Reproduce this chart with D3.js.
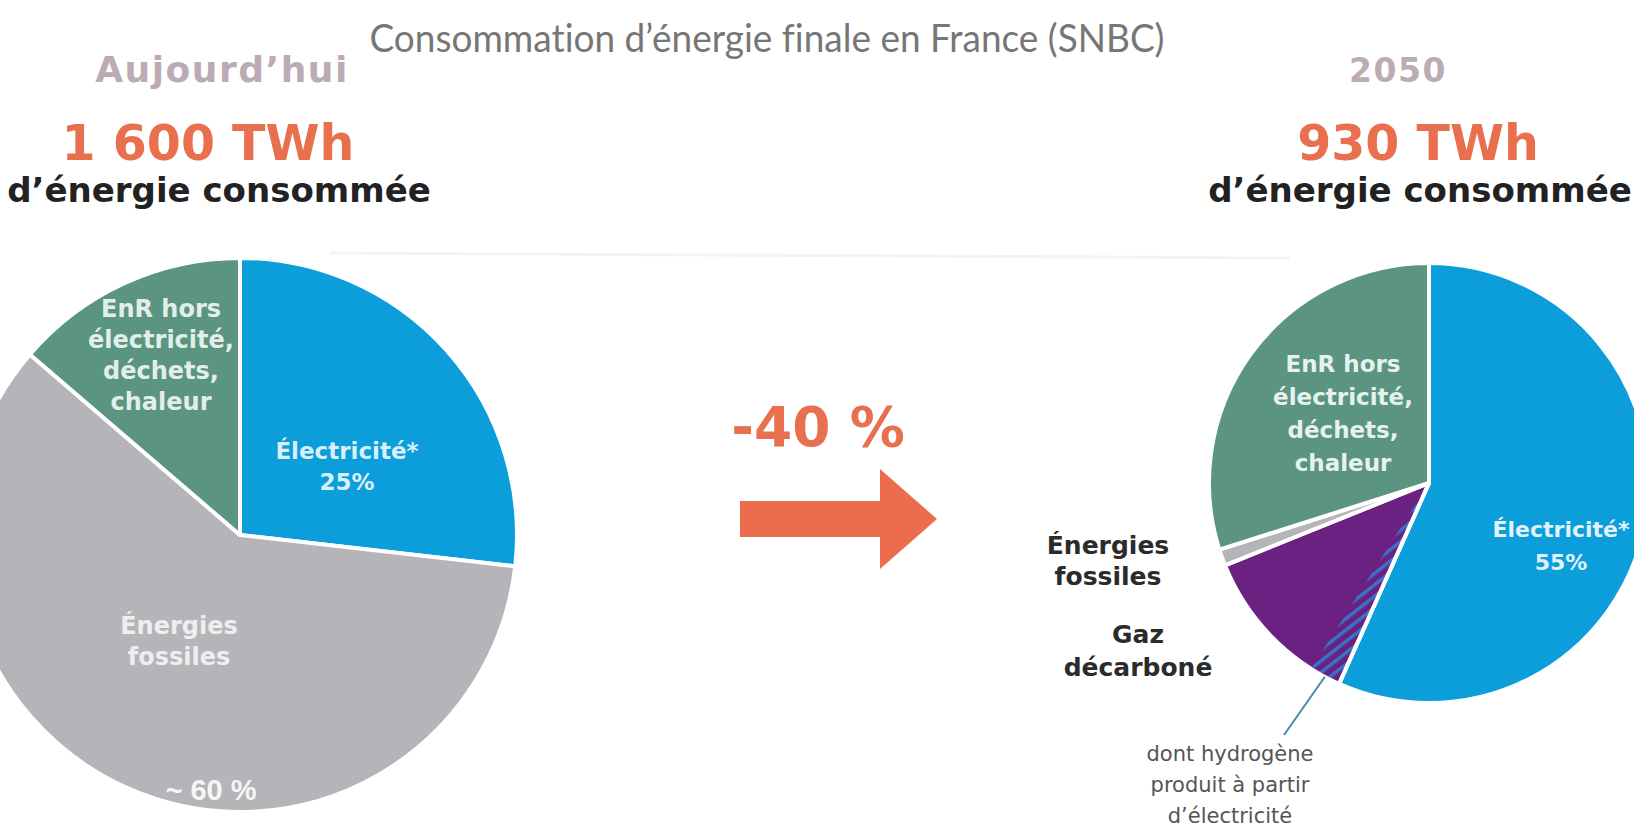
<!DOCTYPE html>
<html><head><meta charset="utf-8">
<script src="https://cdn.jsdelivr.net/npm/d3@7"></script>
<style>html,body{margin:0;padding:0;background:#fff;overflow:hidden} text{font-variant-ligatures:none}</style>
</head><body><svg id="chart" width="1634" height="834"></svg>
<script>
// ---------------- DATA ----------------
const title = "Consommation d’énergie finale en France (SNBC)";
const periods = ["Aujourd’hui", "2050"];
const totals = [1600, 930];
const totalLabels = ["1 600 TWh", "930 TWh"];
const subtitle = "d’énergie consommée";
const changeLabel = "-40 %";
const categoriesToday = ["Électricité*", "Énergies fossiles", "EnR hors électricité, déchets, chaleur"];
const valuesToday = [26.8, 59.5, 13.7];
const categories2050 = ["Électricité*", "Gaz décarboné", "Énergies fossiles", "EnR hors électricité, déchets, chaleur"];
const values2050 = [56.7, 12.2, 1.2, 29.9];
const hydrogenShare2050 = 2.3;           // part of "Gaz décarboné" = hydrogen made from electricity
const shareLabelsToday = ["25%", "~ 60 %", ""];
const shareLabels2050 = ["55%", "", "", ""];
const hydrogenNote = ["dont hydrogène", "produit à partir", "d’électricité"];

// ---------------- STYLE / LAYOUT ----------------
const colors = {
  "Électricité*": "#0b9edb",
  "Énergies fossiles": "#b5b5b9",
  "EnR hors électricité, déchets, chaleur": "#5b9480",
  "Gaz décarboné": "#6a2182"
};
const orange = "#e8704f";
const svg = d3.select("#chart");

const defs = svg.append("defs");
const pat = defs.append("pattern").attr("id", "hatch").attr("patternUnits", "userSpaceOnUse")
  .attr("width", 9).attr("height", 9).attr("patternTransform", "rotate(-38)");
pat.append("rect").attr("width", 9).attr("height", 9).attr("fill", colors["Gaz décarboné"]);
pat.append("rect").attr("width", 9).attr("height", 3.5).attr("fill", "#3a72c6");

// faint background line (artefact of the source)
svg.append("line").attr("x1", 330).attr("y1", 253).attr("x2", 1290).attr("y2", 258)
  .attr("stroke", "#f3f3f3").attr("stroke-width", 3);

// Title
svg.append("text").attr("x", 767).attr("y", 52).attr("text-anchor", "middle")
  .attr("font-family", "Lato, 'Open Sans', sans-serif").attr("font-size", 39)
  .attr("fill", "#767676").attr("textLength", 795).attr("lengthAdjust", "spacingAndGlyphs")
  .text(title);

// Headers
const bold = "'DejaVu Sans', Verdana, sans-serif";
const periodX = [222, 1398];
const periodSize = [36, 33];
const totalX = [208, 1418];
const subX = [219, 1420];
periods.forEach((p, i) => {
  svg.append("text").attr("x", periodX[i]).attr("y", 82).attr("text-anchor", "middle")
    .attr("font-family", bold).attr("font-weight", "bold")
    .attr("font-size", periodSize[i]).attr("letter-spacing", 1.5).attr("fill", "#bcabb5").text(p);
  svg.append("text").attr("x", totalX[i]).attr("y", 160).attr("text-anchor", "middle")
    .attr("font-family", bold).attr("font-weight", "bold")
    .attr("font-size", 49).attr("fill", orange).text(totalLabels[i]);
  svg.append("text").attr("x", subX[i]).attr("y", 202).attr("text-anchor", "middle")
    .attr("font-family", bold).attr("font-weight", "bold")
    .attr("font-size", 34).attr("fill", "#222").text(subtitle);
});

// Pies
const pieGen = d3.pie().sort(null).value(d => d.value).startAngle(0).endAngle(2 * Math.PI);

function drawPie(cx, cy, r, cats, vals) {
  const data = cats.map((c, i) => ({ cat: c, value: vals[i] }));
  const arcs = pieGen(data);
  const arc = d3.arc().innerRadius(0).outerRadius(r);
  const g = svg.append("g").attr("transform", `translate(${cx},${cy})`);
  g.selectAll("path.slice").data(arcs).join("path").attr("class", "slice")
    .attr("d", arc).attr("fill", d => colors[d.data.cat])
    .attr("stroke", "#ffffff").attr("stroke-width", 4).attr("stroke-linejoin", "round");
  return { g, arcs, arc };
}

const left = { cx: 240, cy: 535, r: 277 };
const right = { cx: 1429, cy: 483, r: 220 };

const P1 = drawPie(left.cx, left.cy, left.r, categoriesToday, valuesToday);
const P2 = drawPie(right.cx, right.cy, right.r, categories2050, values2050);

// hydrogen hatch inside gas slice (adjacent to electricity)
const gasArc = P2.arcs.find(a => a.data.cat === "Gaz décarboné");
const total2050 = d3.sum(values2050);
const hStart = gasArc.startAngle;
const hEnd = hStart + hydrogenShare2050 / total2050 * 2 * Math.PI;
P2.g.append("path")
  .attr("d", d3.arc().innerRadius(0).outerRadius(right.r - 2)({ startAngle: hStart + 0.01, endAngle: hEnd }))
  .attr("fill", "url(#hatch)");
P2.g.append("line").attr("x1", 0).attr("y1", 0)
  .attr("x2", right.r * Math.sin(hStart)).attr("y2", -right.r * Math.cos(hStart))
  .attr("stroke", "#ffffff").attr("stroke-width", 4);

// label helper
function block(x, y, lines, opt) {
  const t = svg.append("text").attr("text-anchor", "middle")
    .attr("font-family", opt.family || bold)
    .attr("font-weight", opt.weight || "bold").attr("font-size", opt.size)
    .attr("fill", opt.fill);
  const n = lines.length;
  lines.forEach((l, i) => {
    t.append("tspan").attr("x", x)
      .attr("y", y + (i - (n - 1) / 2) * opt.lh + opt.size * 0.36).text(l);
  });
  return t;
}

// left pie labels
block(161, 355, ["EnR hors", "électricité,", "déchets,", "chaleur"], { size: 24, lh: 31, fill: "#e2efe9" });
block(347, 466, [categoriesToday[0], shareLabelsToday[0]], { size: 23, lh: 31, fill: "#d9f0fa" });
block(179, 641, ["Énergies", "fossiles"], { size: 24, lh: 31, fill: "#eeeeee" });
block(211, 790, [shareLabelsToday[1]], { size: 29, lh: 30, fill: "#f6f6f6", family: "'Liberation Sans', Arial, sans-serif" });

// right pie labels
block(1343, 413, ["EnR hors", "électricité,", "déchets,", "chaleur"], { size: 23, lh: 33, fill: "#e6f2ed" });
block(1561, 546, [categories2050[0], shareLabels2050[0]], { size: 22, lh: 33, fill: "#e0f3fb" });
block(1108, 560, ["Énergies", "fossiles"], { size: 25, lh: 31, fill: "#2b2b2b" });
block(1138, 650, ["Gaz", "décarboné"], { size: 25, lh: 33, fill: "#2b2b2b" });
block(1230, 784, hydrogenNote, { size: 21, lh: 31, fill: "#555", weight: "normal" });

// leader line from hydrogen wedge
const hMid = (hStart + hEnd) / 2;
svg.append("line")
  .attr("x1", right.cx + right.r * Math.sin(hMid)).attr("y1", right.cy - right.r * Math.cos(hMid))
  .attr("x2", 1284).attr("y2", 735)
  .attr("stroke", "#3b8fae").attr("stroke-width", 2);

// change arrow
svg.append("text").attr("x", 818).attr("y", 446).attr("text-anchor", "middle")
  .attr("font-family", bold).attr("font-weight", "bold")
  .attr("font-size", 55).attr("fill", orange).text(changeLabel);
const ax0 = 740, ax1 = 880, axTip = 937, ay = 519, bodyH = 36, headH = 100;
const arrow = d3.path();
arrow.moveTo(ax0, ay - bodyH / 2);
arrow.lineTo(ax1, ay - bodyH / 2);
arrow.lineTo(ax1, ay - headH / 2);
arrow.lineTo(axTip, ay);
arrow.lineTo(ax1, ay + headH / 2);
arrow.lineTo(ax1, ay + bodyH / 2);
arrow.lineTo(ax0, ay + bodyH / 2);
arrow.closePath();
svg.append("path").attr("d", arrow.toString()).attr("fill", "#ec6c4e");
</script></body></html>
